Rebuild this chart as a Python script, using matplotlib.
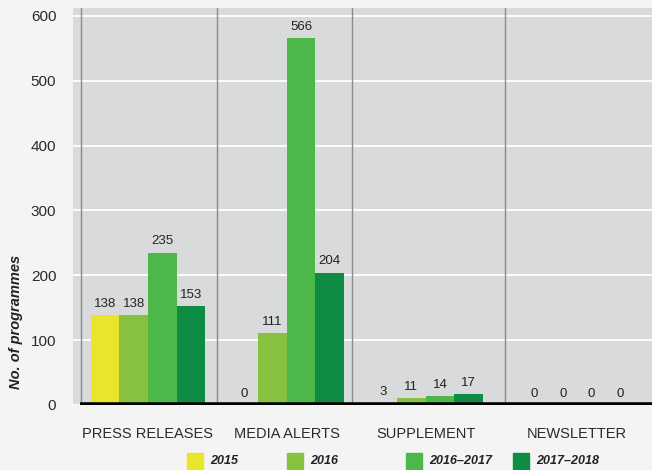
import matplotlib
matplotlib.use("Agg")
import matplotlib.pyplot as plt
from matplotlib.patches import Rectangle

categories = ["PRESS RELEASES", "MEDIA ALERTS", "SUPPLEMENT", "NEWSLETTER"]
series_names = ["2015", "2016", "2016\u20132017", "2017\u20132018"]
v2015 = [138, 0, 3, 0]
v2016 = [138, 111, 11, 0]
v2016_17 = [235, 566, 14, 0]
v2017_18 = [153, 204, 17, 0]
yticks = [0, 100, 200, 300, 400, 500, 600]

series = [v2015, v2016, v2016_17, v2017_18]
colors = ["#e8e52a", "#86c240", "#4cb84a", "#0e8c44"]

plt.rcParams['font.family'] = ['Liberation Sans', 'DejaVu Sans']

fig = plt.figure(figsize=(6.52, 4.70), dpi=100)
fig.patch.set_facecolor("#f5f4f4")
ax = fig.add_axes([73/652, 1-405/470, 579/652, 397/470])
ax.set_facecolor("#d9dadc")

centers = [0, 1, 2, 3.09]
bw = 0.206
for i, (vals, c) in enumerate(zip(series, colors)):
    xs = [cx + (i - 1.5) * bw for cx in centers]
    ax.bar(xs, vals, width=bw, color=c, zorder=3)
    for x, v in zip(xs, vals):
        ax.text(x, v + 8, str(v), ha="center", va="bottom", fontsize=9.5,
                color="#222222", zorder=4)

ax.set_xlim(-0.54, 3.63)
ax.set_ylim(0, 612)
ax.set_yticks(yticks)
ax.yaxis.grid(True, color="white", linewidth=1.3, zorder=1)
ax.set_axisbelow(True)
ax.tick_params(axis="y", length=0, pad=12, labelsize=11, labelcolor="#2a2a2a")
ax.set_xticks(centers)
ax.set_xticklabels(categories)
ax.tick_params(axis="x", length=0, pad=16, labelsize=10.5, labelcolor="#2a2a2a")
for s in ax.spines.values():
    s.set_visible(False)

for xv in [-0.48, 0.5, 1.47, 2.57]:
    ax.axvline(xv, color="#8c8c8c", linewidth=1, zorder=2)

ax.axhline(0, xmin=7/579, xmax=1, color="black", linewidth=4, zorder=5,
           solid_capstyle="butt")

ax.set_ylabel("No. of programmes", fontsize=10.5, fontweight="bold",
              fontstyle="italic", color="#222222")
ax.yaxis.set_label_coords(-50/579, 0.21)

# legend
leg_x = [187, 287, 406, 513]
for lx, c, name in zip(leg_x, colors, series_names):
    fig.patches.append(Rectangle((lx/652, 1-469/470), 16/652, 16/470,
                                 transform=fig.transFigure, color=c,
                                 figure=fig))
    fig.text((lx+23)/652, 1-461/470, name, fontsize=9, fontweight="bold",
             fontstyle="italic", va="center", ha="left", color="#222222")

fig.savefig("out.png", dpi=100, facecolor=fig.get_facecolor())
